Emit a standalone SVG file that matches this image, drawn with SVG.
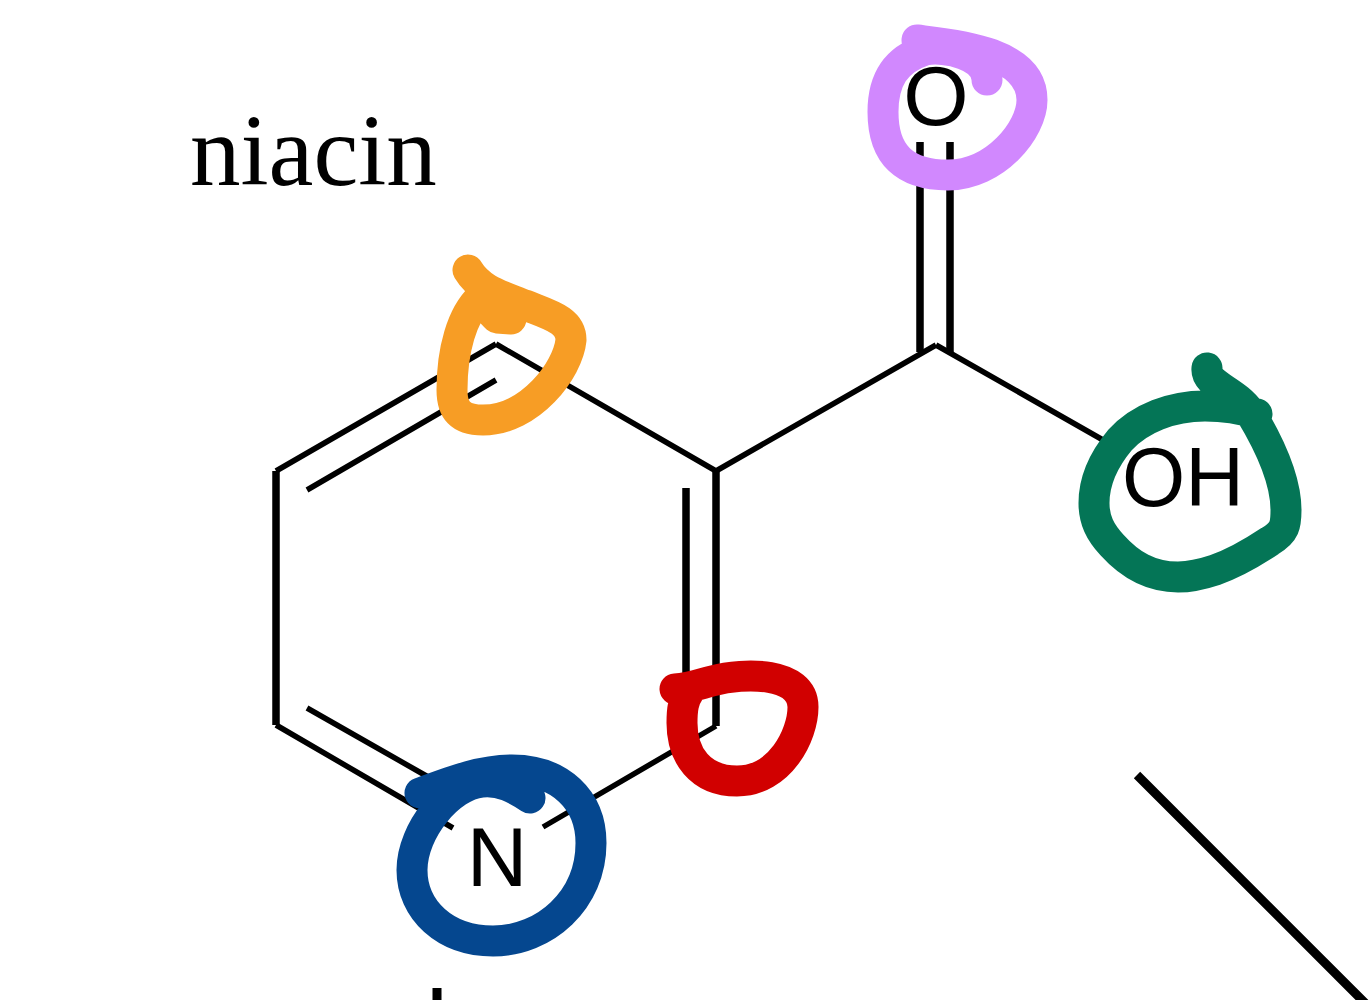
<svg xmlns="http://www.w3.org/2000/svg" width="1372" height="1000" viewBox="0 0 1372 1000">
<style>
.b{stroke:#000;stroke-width:5.5;fill:none}
.v{stroke:#000;stroke-width:7.5;fill:none}
.k{stroke:#000;stroke-width:9;fill:none}
.h{fill:none;stroke-width:31;stroke-linecap:round;stroke-linejoin:round}
.a{font-family:"Liberation Sans",Arial,sans-serif;font-size:84px;fill:#000}
.t{font-family:"Liberation Serif","Times New Roman",serif;font-size:101px;fill:#000}
</style>
<rect width="1372" height="1000" fill="#fff"/>
<g id="connectors">
<path class="b" d="M276 471L496 344M307 490L496 380M496 344L716 471M716 726L543 827M276 725L453 828M307 708L430 778M716 471L936 345M936 345L1103 440"/>
<path class="v" d="M276 471V725M686 488V690M716 471V726M920 142V352M950 142V352"/>
<path class="k" d="M437 988V1000M1137 775L1372 1010"/>
</g>
<g id="highlight-orange"><path class="h" stroke="#f79d25" d="M468 270C480 290 500 295 525 305C550 315 571 320 571 340C568 370 530 420 483 420C460 420 452 410 452 390C452 350 462 315 480 298C485 303 490 312 497 318L511 319"/></g>
<g id="highlight-blue"><path class="h" stroke="#05478f" d="M420 793C450 782 480 770 512 770C560 770 591 800 591 843C591 900 545 941 493 941C445 941 412 910 412 870C412 830 450 785 482 782C500 780 515 788 530 798"/></g>
<g id="highlight-red"><path class="h" stroke="#d10000" d="M675 689C690 688 700 684 712 681C745 672 803 672 803 707C803 735 780 781 737 781C700 781 682 755 682 723C682 710 683 700 690 690"/></g>
<g id="highlight-purple"><path class="h" stroke="#d188fe" d="M917 40C950 44 1032 50 1032 100C1032 130 995 175 948 175C905 175 883 155 883 112C883 80 895 60 925 50C945 46 987 55 987 80"/></g>
<g id="highlight-green"><path class="h" stroke="#047556" d="M1207 368C1205 385 1235 390 1250 412C1270 445 1286 480 1286 510C1286 525 1285 532 1270 541C1255 551 1235 563 1215 570C1200 575 1190 577 1178 577C1150 577 1130 565 1112 545C1100 532 1094 520 1094 503C1094 480 1105 458 1120 440C1140 418 1172 406 1205 406C1225 406 1242 409 1257 414"/></g>
<g id="label-title"><text class="t" x="190" y="185">niacin</text></g>
<g id="atom-O"><text class="a" x="936" y="125" text-anchor="middle">O</text></g>
<g id="atom-OH"><text class="a" x="1122" y="506" textLength="122" lengthAdjust="spacingAndGlyphs">OH</text></g>
<g id="atom-N"><text class="a" x="497" y="886" text-anchor="middle">N</text></g>
</svg>
